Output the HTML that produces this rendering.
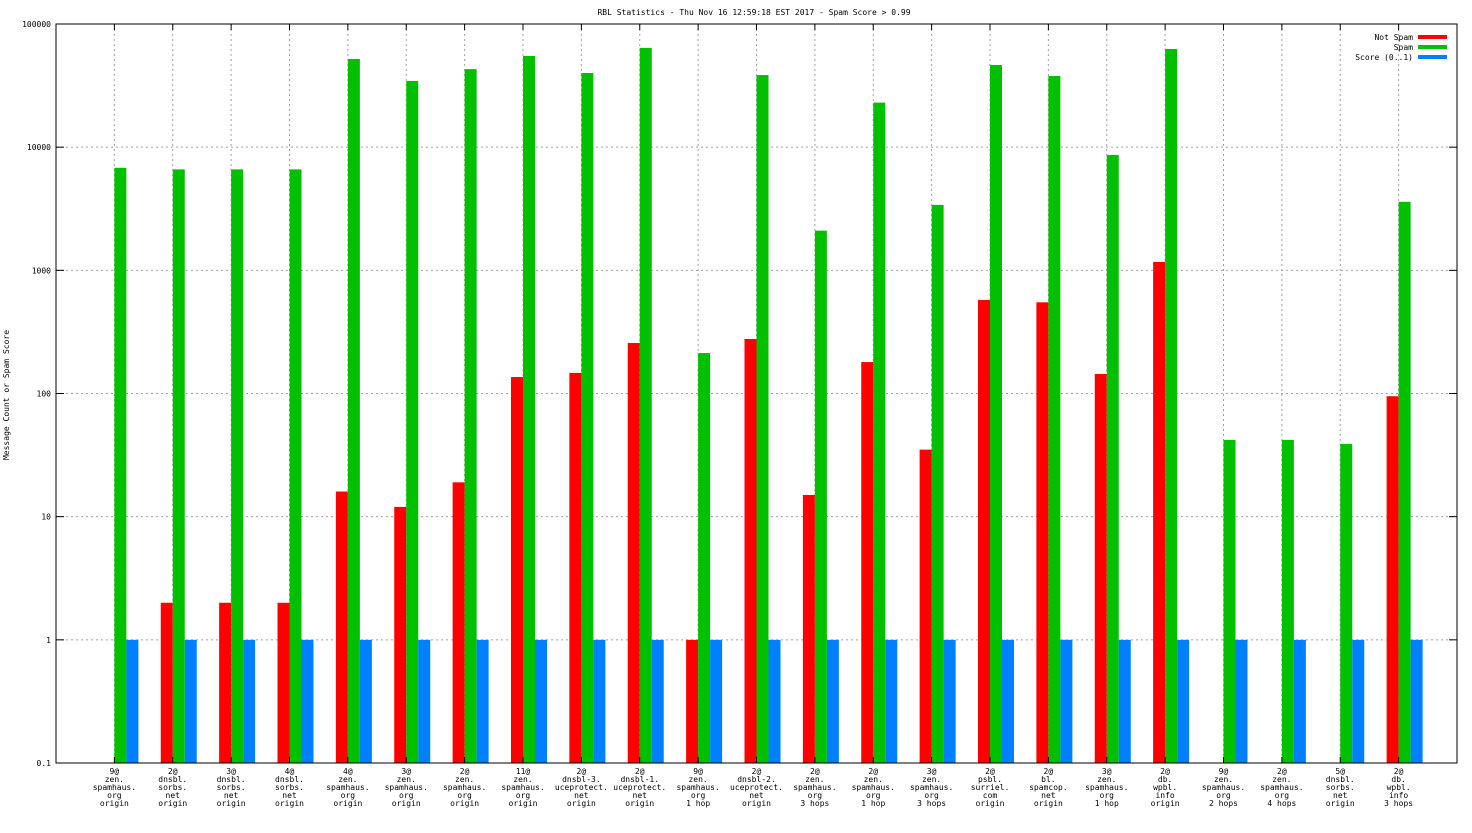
<!DOCTYPE html>
<html><head><meta charset="utf-8"><style>
body{margin:0;background:#fff;}
svg text{font-family:"DejaVu Sans Mono","Liberation Mono",monospace;font-size:8px;fill:#000;}
</style></head><body>
<svg id="chart" width="1472" height="828" xmlns="http://www.w3.org/2000/svg">
<text x="754" y="15" text-anchor="middle">RBL Statistics - Thu Nov 16 12:59:18 EST 2017 - Spam Score &gt; 0.99</text>
<text transform="translate(9,395) rotate(-90)" text-anchor="middle">Message Count or Spam Score</text>
<g id="grid"></g><g id="bars"></g><g id="axes"></g>
<g>
<text x="1413" y="40" text-anchor="end">Not Spam</text><rect x="1418" y="35" width="29" height="4" fill="#ff0000"/>
<text x="1413" y="50" text-anchor="end">Spam</text><rect x="1418" y="45" width="29" height="4" fill="#00c000"/>
<text x="1413" y="60" text-anchor="end">Score (0..1)</text><rect x="1418" y="55" width="29" height="4" fill="#0080ff"/>
</g>
</svg>
<script>
const labels=[["9@","zen.","spamhaus.","org","origin"],["2@","dnsbl.","sorbs.","net","origin"],["3@","dnsbl.","sorbs.","net","origin"],["4@","dnsbl.","sorbs.","net","origin"],["4@","zen.","spamhaus.","org","origin"],["3@","zen.","spamhaus.","org","origin"],["2@","zen.","spamhaus.","org","origin"],["11@","zen.","spamhaus.","org","origin"],["2@","dnsbl-3.","uceprotect.","net","origin"],["2@","dnsbl-1.","uceprotect.","net","origin"],["9@","zen.","spamhaus.","org","1 hop"],["2@","dnsbl-2.","uceprotect.","net","origin"],["2@","zen.","spamhaus.","org","3 hops"],["2@","zen.","spamhaus.","org","1 hop"],["3@","zen.","spamhaus.","org","3 hops"],["2@","psbl.","surriel.","com","origin"],["2@","bl.","spamcop.","net","origin"],["3@","zen.","spamhaus.","org","1 hop"],["2@","db.","wpbl.","info","origin"],["9@","zen.","spamhaus.","org","2 hops"],["2@","zen.","spamhaus.","org","4 hops"],["5@","dnsbl.","sorbs.","net","origin"],["2@","db.","wpbl.","info","3 hops"]];
const notSpam=[0,2,2,2,16,12,19,136,147,257,1,277,15,180,35,575,550,144,1170,0,0,0,95];
const spam=[6800,6600,6600,6600,52000,34500,43000,55000,40000,64000,213,38500,2100,23000,3400,46500,37800,8650,62700,42,42,39,3600];
const score=[1,1,1,1,1,1,1,1,1,1,1,1,1,1,1,1,1,1,1,1,1,1,1];
const yTicks=[0.1,1,10,100,1000,10000,100000];
const yTickLabels=["0.1","1","10","100","1000","10000","100000"];
const L=56,R=1457,T=24,B=763;
const NS="http://www.w3.org/2000/svg";
function y(v){return B-(Math.log10(v)+1)/6*(B-T);}
function xc(i){return L+(R-L)/(labels.length+1)*(i+1);}
function mk(tag,attrs,parent){const e=document.createElementNS(NS,tag);for(const k in attrs)e.setAttribute(k,attrs[k]);document.getElementById(parent).appendChild(e);return e;}
yTicks.forEach((t,k)=>{const yy=y(t);
 if(k>0&&k<yTicks.length-1){const g=mk('line',{x1:L,x2:R,y1:yy,y2:yy,stroke:'#a0a0a0','stroke-dasharray':'2,3','stroke-width':1},'grid');
 
 }
 mk('line',{x1:L,x2:L+8,y1:yy,y2:yy,stroke:'#000'},'axes');
 mk('line',{x1:R-8,x2:R,y1:yy,y2:yy,stroke:'#000'},'axes');
 const tx=mk('text',{x:L-5,y:yy+3,'text-anchor':'end'},'axes');tx.textContent=yTickLabels[k];
 
 
});
labels.forEach((lb,i)=>{const c=xc(i);
 const g=mk('line',{x1:c,x2:c,y1:T,y2:B,stroke:'#a0a0a0','stroke-dasharray':'2,3'},'grid');
 
 
 mk('line',{x1:c,x2:c,y1:B,y2:B-6,stroke:'#000'},'axes');
 mk('line',{x1:c,x2:c,y1:T,y2:T+6,stroke:'#000'},'axes');
 const sets=[[notSpam,'#ff0000',-12,'bar-not-spam'],[spam,'#00c000',0,'bar-spam'],[score,'#0080ff',12,'bar-score']];
 sets.forEach(s=>{const v=s[0][i];if(v>0){const top=y(v);
  const r=mk('rect',{x:c+s[2],y:top,width:12,height:B-top,fill:s[1]},'bars');
  
  }});
 lb.forEach((t,j)=>{const tx=mk('text',{x:c,y:774+j*8,'text-anchor':'middle'},'axes');tx.textContent=t;
  
  });
});
const fr=mk('rect',{x:L,y:T,width:R-L,height:B-T,fill:'none',stroke:'#000'},'axes');


</script>
</body></html>
